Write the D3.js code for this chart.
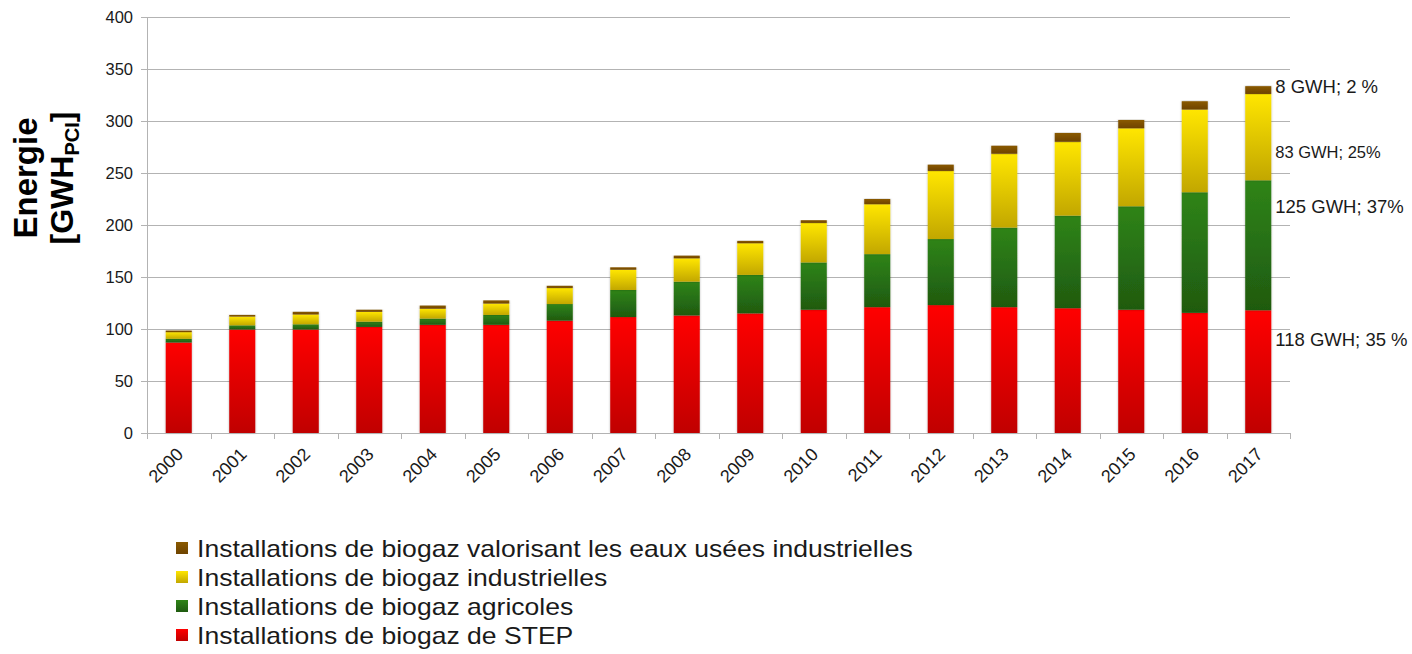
<!DOCTYPE html>
<html>
<head>
<meta charset="utf-8">
<script src="https://cdn.jsdelivr.net/npm/d3@7"></script>
<style>
  body { margin: 0; background: #fff; }
  svg { display: block; font-family: "Liberation Sans", Arial, sans-serif; }
</style>
</head>
<body>
<div id="chart"></div>
<script>
// energy per category, GWh
var years = ["2000","2001","2002","2003","2004","2005","2006","2007","2008","2009","2010","2011","2012","2013","2014","2015","2016","2017"];
var step  = [87, 99.5, 99.5, 102, 104, 104, 108, 111.5, 113, 115, 118.5, 121, 123, 121, 120, 118.5, 115.5, 118];
var agri  = [3.5, 4, 5, 5, 6, 9.5, 16, 26, 32.5, 37, 45.5, 51, 63.5, 76.5, 89, 99.5, 116, 125];
var indus = [6.5, 8.5, 9.5, 9.5, 9.5, 11, 15.5, 19.5, 22.5, 30.5, 38, 48, 65.5, 71, 71, 75, 79.5, 83];
var eaux  = [1.5, 1.5, 2.5, 2, 3, 3, 2, 2.3, 2.5, 2.2, 2.6, 5, 6, 7.7, 8.5, 8, 8, 7.5];
var yTicks = [0, 50, 100, 150, 200, 250, 300, 350, 400];

var seriesNames = [
    "Installations de biogaz de STEP",
    "Installations de biogaz agricoles",
    "Installations de biogaz industrielles",
    "Installations de biogaz valorisant les eaux usées industrielles"
];
// annotations on the 2017 bar: text and value where it sits
var endLabels = ["118 GWH; 35 %", "125 GWH; 37%", "83 GWH; 25%", "8 GWH; 2 %"];
var endLabelAt = [90, 218, 270, 333];

var colors = [
    {top: "#ff0000", bottom: "#c00000"},
    {top: "#2f8417", bottom: "#1f5a10"},
    {top: "#ffe600", bottom: "#c2a700"},
    {top: "#8a5a00", bottom: "#6e4300"}
];

var W = 1412, H = 654;
var margin = {top: 17, right: 122, bottom: 221, left: 147};
var width = W - margin.left - margin.right,
    height = H - margin.top - margin.bottom;

var table = years.map(function(y, i){
    return {year: y, s0: step[i], s1: agri[i], s2: indus[i], s3: eaux[i]};
});
var stacked = d3.stack().keys(["s0","s1","s2","s3"])(table);

var svg = d3.select("#chart").append("svg").attr("width", W).attr("height", H);

var defs = svg.append("defs");
colors.forEach(function(c, i){
    var g = defs.append("linearGradient").attr("id", "grad" + i)
        .attr("x1", 0).attr("y1", 0).attr("x2", 0).attr("y2", 1);
    g.append("stop").attr("offset", "0%").attr("stop-color", c.top);
    g.append("stop").attr("offset", "100%").attr("stop-color", c.bottom);
});
var f = defs.append("filter").attr("id", "shadow")
    .attr("x", "-20%").attr("y", "-5%").attr("width", "140%").attr("height", "110%");
f.append("feDropShadow").attr("dx", 0).attr("dy", 0).attr("stdDeviation", 1.2)
    .attr("flood-color", "#000").attr("flood-opacity", 0.3);

var g = svg.append("g").attr("transform", "translate(" + margin.left + "," + margin.top + ")");

var x = d3.scaleBand().domain(years).range([0, width]).paddingInner(0.59).paddingOuter(0.295);
var y = d3.scaleLinear().domain([0, 400]).range([height, 0]);

// gridlines
g.selectAll(".grid").data(yTicks).enter().append("line")
    .attr("x1", -6).attr("x2", width)
    .attr("y1", function(d){ return Math.round(y(d)) + 0.5; })
    .attr("y2", function(d){ return Math.round(y(d)) + 0.5; })
    .attr("stroke", "#b3b3b3").attr("stroke-width", 1);

g.selectAll(".ylab").data(yTicks).enter().append("text")
    .attr("x", -14).attr("y", function(d){ return y(d); })
    .attr("dy", "0.35em").attr("text-anchor", "end")
    .style("font-size", "16.5px").style("fill", "#1a1a1a")
    .text(function(d){ return d; });

// left axis line
g.append("line").attr("x1", 0.5).attr("x2", 0.5).attr("y1", 0).attr("y2", height)
    .attr("stroke", "#b3b3b3");

// bars
var layers = g.selectAll(".layer").data(stacked).enter().append("g")
    .attr("fill", function(d, i){ return "url(#grad" + i + ")"; });
layers.selectAll("rect").data(function(d){ return d; }).enter().append("rect")
    .attr("x", function(d){ return x(d.data.year); })
    .attr("width", x.bandwidth())
    .attr("y", function(d){ return y(d[1]); })
    .attr("height", function(d){ return y(d[0]) - y(d[1]); })
    .attr("filter", "url(#shadow)");

// bottom axis
var step0 = x.step();
g.append("line").attr("x1", 0).attr("x2", width)
    .attr("y1", height + 0.5).attr("y2", height + 0.5).attr("stroke", "#b3b3b3");
g.selectAll(".xtick").data(d3.range(years.length + 1)).enter().append("line")
    .attr("x1", function(i){ return Math.round(i * step0) + 0.5; })
    .attr("x2", function(i){ return Math.round(i * step0) + 0.5; })
    .attr("y1", height).attr("y2", height + 6).attr("stroke", "#b3b3b3");

g.selectAll(".xlab").data(years).enter().append("text")
    .attr("transform", function(d){
        return "translate(" + (x(d) + x.bandwidth() / 2 + 1) + "," + (height + 18) + ") rotate(-45)";
    })
    .attr("text-anchor", "end").attr("dy", "0.35em")
    .style("font-size", "18px").style("fill", "#1a1a1a")
    .text(function(d){ return d; });

// labels at the end of the 2017 bar
var lastX = x(years[years.length - 1]) + x.bandwidth() + 4;
g.selectAll(".endlab").data(endLabels).enter().append("text")
    .attr("x", lastX)
    .attr("y", function(d, i){ return y(endLabelAt[i]); })
    .attr("dy", "0.35em")
    .style("font-size", function(d, i){ return i === 2 ? "16.5px" : "18.5px"; })
    .style("fill", "#1a1a1a")
    .text(function(d){ return d; });

// y title
var yt = svg.append("text").attr("transform", "translate(0,178) rotate(-90)")
    .attr("text-anchor", "middle").style("font-weight", "bold").style("fill", "#000");
yt.append("tspan").attr("x", 0).attr("y", 37).style("font-size", "33px").text("Energie");
var t2 = yt.append("tspan").attr("x", 0).attr("y", 73).style("font-size", "32px");
t2.append("tspan").text("[GWH");
t2.append("tspan").attr("dy", 6).style("font-size", "20px").text("PCI");
t2.append("tspan").attr("dy", -6).text("]");

// legend, top row is the last series
var legend = svg.append("g").attr("transform", "translate(176,549)");
var legRows = seriesNames.slice().reverse();
legRows.forEach(function(name, i){
    var ci = seriesNames.length - 1 - i;
    legend.append("rect").attr("x", 0).attr("y", i * 29 - 7).attr("width", 12).attr("height", 12)
        .attr("fill", "url(#grad" + ci + ")");
    legend.append("text").attr("transform", "translate(21," + (i * 29) + ") scale(1.155,1)")
        .attr("dy", "0.35em")
        .style("font-size", "23px").style("fill", "#1a1a1a").text(name);
});
</script>
</body>
</html>
